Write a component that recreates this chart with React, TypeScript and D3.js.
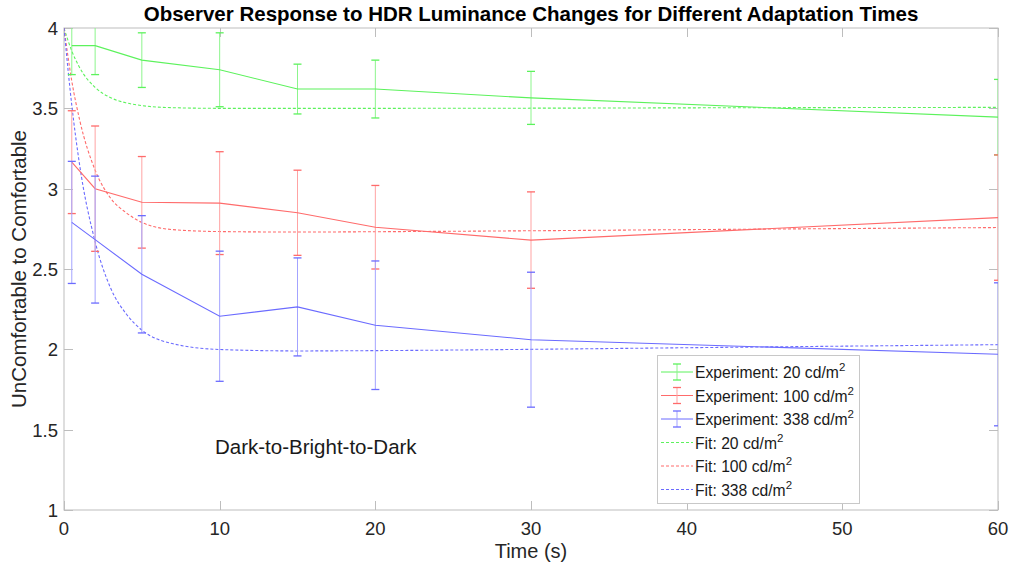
import React, { useEffect, useRef } from 'react';
import * as d3 from 'd3';

// measured times (s)
const times = [0.5, 2, 5, 10, 15, 20, 30, 60];

// experiment means and error half-widths
const exp20 = [3.89, 3.89, 3.80, 3.74, 3.62, 3.62, 3.565, 3.445];
const err20 = [0.18, 0.18, 0.17, 0.23, 0.155, 0.18, 0.165, 0.235];
const exp100 = [3.165, 3.0, 2.915, 2.91, 2.85, 2.76, 2.68, 2.82];
const err100 = [0.32, 0.39, 0.285, 0.32, 0.265, 0.26, 0.30, 0.39];
const exp338 = [2.79, 2.683, 2.467, 2.206, 2.264, 2.15, 2.06, 1.969];
const err338 = [0.38, 0.395, 0.365, 0.405, 0.305, 0.40, 0.42, 0.445];

// fitted curves
const fitTimes = [0, 0.5, 1, 2, 3, 4, 5, 7, 10, 15, 20, 30, 40, 60];
const fit20 = [4.0, 3.857, 3.754, 3.63, 3.566, 3.534, 3.517, 3.504, 3.5, 3.5, 3.5, 3.501, 3.503, 3.506];
const fit100 = [4.0, 3.67, 3.43, 3.115, 2.94, 2.85, 2.79, 2.745, 2.733, 2.73, 2.732, 2.738, 2.745, 2.758];
const fit338 = [4.0, 3.52, 3.15, 2.67, 2.38, 2.22, 2.12, 2.035, 1.999, 1.99, 1.992, 2.0, 2.01, 2.029];

const xTicks = [0, 10, 20, 30, 40, 50, 60];
const yTicks = [1, 1.5, 2, 2.5, 3, 3.5, 4];

const seriesLabels = ['20', '100', '338'];

const W = 1011;
const H = 571;
const margin = { top: 28, right: 13, bottom: 61, left: 64 };
const font = 'Arial, "Liberation Sans", Helvetica, sans-serif';

const App = () => {
  const ref = useRef<SVGSVGElement>(null);

  useEffect(() => {
    const svg = d3.select(ref.current);
    svg.selectAll('*').remove();

    const x = d3.scaleLinear().domain([0, 60]).range([margin.left, W - margin.right]);
    const y = d3.scaleLinear().domain([1, 4]).range([H - margin.bottom, margin.top]);

    const lineCol = ['#5cf25c', '#ff6b6b', '#6b6bff'];
    const barCol = ['#8cf58c', '#ffa3a3', '#a3a3ff'];

    svg.append('rect').attr('width', W).attr('height', H).attr('fill', '#fff');

    svg.append('defs').append('clipPath').attr('id', 'plotclip')
      .append('rect')
      .attr('x', margin.left).attr('y', margin.top)
      .attr('width', W - margin.left - margin.right)
      .attr('height', H - margin.top - margin.bottom);

    // axes (box with inward ticks)
    const axisCol = '#bdbdbd';
    const tickLen = 9;
    const g = svg.append('g');
    g.append('rect')
      .attr('x', margin.left).attr('y', margin.top)
      .attr('width', W - margin.left - margin.right)
      .attr('height', H - margin.top - margin.bottom)
      .attr('fill', 'none').attr('stroke', axisCol).attr('stroke-width', 1);

    xTicks.forEach(t => {
      const px = Math.round(x(t)) + 0.5;
      g.append('line').attr('x1', px).attr('x2', px)
        .attr('y1', y(1)).attr('y2', y(1) - tickLen).attr('stroke', axisCol);
      g.append('line').attr('x1', px).attr('x2', px)
        .attr('y1', y(4)).attr('y2', y(4) + tickLen).attr('stroke', axisCol);
      g.append('text').attr('x', x(t)).attr('y', y(1) + 25)
        .attr('text-anchor', 'middle').attr('font-family', font)
        .attr('font-size', 18.5).attr('fill', '#262626').text(t);
    });
    yTicks.forEach(t => {
      const py = Math.round(y(t)) + 0.5;
      g.append('line').attr('x1', x(0)).attr('x2', x(0) + tickLen)
        .attr('y1', py).attr('y2', py).attr('stroke', axisCol);
      g.append('line').attr('x1', x(60)).attr('x2', x(60) - tickLen)
        .attr('y1', py).attr('y2', py).attr('stroke', axisCol);
      g.append('text').attr('x', x(0) - 6).attr('y', y(t) + 7)
        .attr('text-anchor', 'end').attr('font-family', font)
        .attr('font-size', 18.5).attr('fill', '#262626').text(t);
    });

    const plot = svg.append('g').attr('clip-path', 'url(#plotclip)');

    const line = d3.line<[number, number]>()
      .x(d => x(d[0])).y(d => y(d[1]));
    const smooth = d3.line<[number, number]>()
      .x(d => x(d[0])).y(d => y(d[1])).curve(d3.curveMonotoneX);

    const exps = [exp20, exp100, exp338];
    const errs = [err20, err100, err338];
    const fits = [fit20, fit100, fit338];

    // fits
    fits.forEach((f, i) => {
      plot.append('path')
        .attr('d', smooth(fitTimes.map((t, j) => [t, f[j]] as [number, number])))
        .attr('fill', 'none').attr('stroke', lineCol[i])
        .attr('stroke-width', 1.1).attr('stroke-dasharray', '3,2');
    });

    // experiments with error bars
    exps.forEach((e, i) => {
      const cap = 4;
      times.forEach((t, j) => {
        const lo = y(e[j] - errs[i][j]);
        const hi = y(e[j] + errs[i][j]);
        const px = x(t);
        plot.append('line').attr('x1', px).attr('x2', px)
          .attr('y1', lo).attr('y2', hi).attr('stroke', barCol[i]).attr('stroke-width', 1);
        [lo, hi].forEach(yy => {
          plot.append('line').attr('x1', px - cap).attr('x2', px + cap)
            .attr('y1', yy).attr('y2', yy).attr('stroke', lineCol[i]).attr('stroke-width', 1.3);
        });
      });
      plot.append('path')
        .attr('d', line(times.map((t, j) => [t, e[j]] as [number, number])))
        .attr('fill', 'none').attr('stroke', lineCol[i]).attr('stroke-width', 1.1);
    });

    // annotation
    svg.append('text').attr('x', 215).attr('y', 454)
      .attr('font-family', font).attr('font-size', 20.5).attr('fill', '#1a1a1a')
      .text('Dark-to-Bright-to-Dark');

    // legend
    const lg = svg.append('g');
    const lx = 657, ly = 355, lw = 202, lh = 148;
    lg.append('rect').attr('x', lx + 0.5).attr('y', ly + 0.5).attr('width', lw).attr('height', lh)
      .attr('fill', '#fff').attr('stroke', '#c8c8c8');
    const rowY = (k: number) => ly + 17 + k * 23.5;
    const addLabel = (k: number, prefix: string, val: string) => {
      const tx = lg.append('text').attr('x', 695).attr('y', rowY(k) + 6)
        .attr('font-family', font).attr('font-size', 15.7).attr('fill', '#1a1a1a');
      tx.append('tspan').text(`${prefix}: ${val} cd/m`);
      tx.append('tspan').attr('font-size', 11.5).attr('dy', -7).text('2');
    };
    seriesLabels.forEach((s, i) => {
      const yy = rowY(i);
      lg.append('line').attr('x1', 661).attr('x2', 693).attr('y1', yy).attr('y2', yy)
        .attr('stroke', lineCol[i]).attr('stroke-width', 1);
      lg.append('line').attr('x1', 677).attr('x2', 677).attr('y1', yy - 8).attr('y2', yy + 8)
        .attr('stroke', barCol[i]);
      [yy - 8, yy + 8].forEach(cy => {
        lg.append('line').attr('x1', 673).attr('x2', 681).attr('y1', cy).attr('y2', cy)
          .attr('stroke', lineCol[i]).attr('stroke-width', 1.3);
      });
      addLabel(i, 'Experiment', s);
    });
    seriesLabels.forEach((s, i) => {
      const yy = rowY(i + 3);
      lg.append('line').attr('x1', 661).attr('x2', 693).attr('y1', yy).attr('y2', yy)
        .attr('stroke', lineCol[i]).attr('stroke-width', 1).attr('stroke-dasharray', '3,2');
      addLabel(i + 3, 'Fit', s);
    });

    // title & axis labels
    svg.append('text').attr('x', (margin.left + W - margin.right) / 2).attr('y', 21)
      .attr('text-anchor', 'middle').attr('font-family', font).attr('font-weight', 'bold')
      .attr('font-size', 20.5).attr('fill', '#000')
      .text('Observer Response to HDR Luminance Changes for Different Adaptation Times');
    svg.append('text').attr('x', (margin.left + W - margin.right) / 2).attr('y', 558)
      .attr('text-anchor', 'middle').attr('font-family', font)
      .attr('font-size', 20).attr('fill', '#262626').text('Time (s)');
    svg.append('text')
      .attr('transform', `translate(26, ${(margin.top + H - margin.bottom) / 2}) rotate(-90)`)
      .attr('text-anchor', 'middle').attr('font-family', font)
      .attr('font-size', 20.5).attr('fill', '#262626').text('UnComfortable to Comfortable');
  }, []);

  return (
    <svg ref={ref} width={W} height={H}
      style={{ position: 'absolute', left: 0, top: 0, display: 'block' }} />
  );
};

export default App;
